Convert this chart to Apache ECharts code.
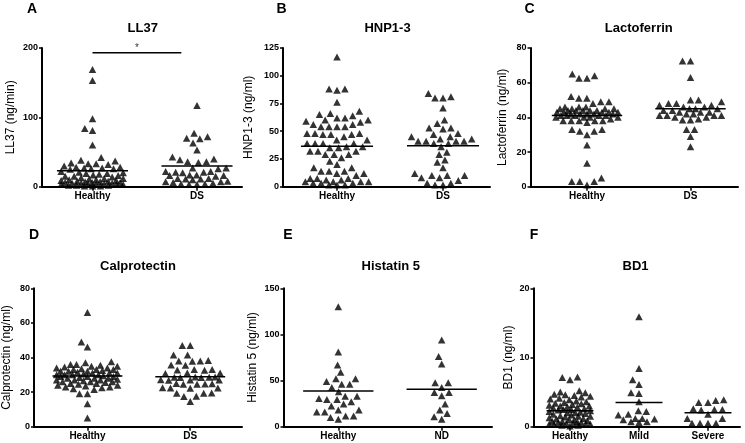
<!DOCTYPE html>
<html><head><meta charset="utf-8">
<script src="https://cdn.jsdelivr.net/npm/echarts@6/dist/echarts.min.js"></script>
<style>html,body{margin:0;padding:0;background:#fff}#c{width:745px;height:443px}</style>
</head><body><div id="c"></div>
<script>
// ---------- DATA ----------
const twoCats = ['Healthy', 'DS'];
const histCats = ['Healthy', 'ND'];
const bd1Cats = ['Healthy', 'Mild', 'Severe'];

const ll37Healthy = [169, 153, 98, 84, 81, 60, 42, 38, 37, 34, 33, 33, 32, 30, 28, 28, 27, 27, 26, 26, 25, 22, 21, 20, 19, 19, 18, 17, 16, 15, 15, 14, 13, 12, 12, 11, 10, 10, 9, 9, 8, 8, 7, 7, 6, 6, 6, 5, 5, 5, 4, 4, 4, 3, 3, 3, 2, 2, 2, 1, 1, 1];
const ll37DS = [117, 77, 72, 70, 69, 63, 53, 43, 40, 39, 36, 36, 35, 27, 27, 26, 22, 22, 21, 21, 20, 17, 17, 16, 16, 15, 12, 12, 11, 11, 10, 8, 7, 7, 6, 5, 4, 4, 3, 3];
const ll37Lines = [23, 30];
const ll37Ticks = [0, 100, 200];

const hnpHealthy = [117, 88, 88, 87, 76, 68, 66, 65, 64, 62, 62, 60, 60, 59, 58, 56, 56, 54, 54, 54, 54, 48, 48, 48, 47, 47, 47, 45, 42, 42, 39, 39, 39, 39, 36, 36, 35, 35, 32, 32, 32, 29, 29, 29, 26, 23, 20, 17, 17, 14, 14, 14, 12, 12, 10, 7.5, 7.5, 7.5, 6, 6, 4.5, 4.5, 4.5, 4.5, 3, 3, 3, 1.5, 1.5, 1.5];
const hnpDS = [84, 81, 80, 80, 71, 60, 57, 53, 53, 52, 48, 47, 45, 45, 43, 43, 41, 41, 41, 41, 39, 39, 36, 31, 29, 24, 22, 17, 12, 10, 10, 10, 8, 8, 5.5, 3, 3, 1.5, 1.5];
const hnpLines = [36.5, 37];
const hnpTicks = [0, 25, 50, 75, 100, 125];

const lactoHealthy = [65, 64, 62.5, 62.5, 52, 51, 51, 49, 49, 48, 46, 46, 46, 45, 45, 45, 45, 44, 44, 44, 44, 44, 43, 43, 43, 43, 43, 42, 42, 42, 42, 42, 41, 41, 41, 41, 41, 40, 40, 40, 40, 39, 38, 38, 38, 38, 38, 37, 33, 33, 32, 32, 30, 24, 13.5, 5, 3, 3, 3, 1];
const lactoDS = [72.5, 72.5, 63, 50, 50, 49, 48, 48, 47, 47, 46, 46, 45, 45, 45, 44, 44, 43, 43, 43, 42, 42, 41, 41, 41, 41, 40, 40, 39, 38.5, 38.5, 33, 33, 29, 23];
const lactoLines = [41, 45];
const lactoTicks = [0, 20, 40, 60, 80];

const calproHealthy = [66, 49, 46, 37.5, 37, 36, 36, 35.5, 35, 35, 34.5, 34, 34, 33.5, 33, 33, 33, 32.5, 32, 32, 32, 31.5, 31, 31, 31, 30.5, 30, 30, 30, 30, 29.5, 29, 29, 29, 28.5, 28, 28, 28, 27.5, 27, 27, 27, 26.5, 26, 26, 26, 25.5, 25, 25, 24.5, 24, 24, 23.5, 23, 23, 22.5, 22, 21.5, 19, 19, 13.2, 5];
const calproDS = [47, 47, 41.5, 41.5, 38.2, 38, 37.8, 38, 35.7, 35.5, 33, 32.8, 32.6, 33, 31, 30.8, 31, 28.8, 28.6, 28.5, 28.7, 28.4, 28.6, 27.2, 27, 26.8, 27, 24.8, 24.6, 24.7, 24.5, 24.9, 22.4, 22.2, 22.3, 22.5, 19.5, 19.3, 19.4, 17.6, 17.4, 14.6];
const calproLines = [29.3, 28.9];
const calproTicks = [0, 20, 40, 60, 80];

const histHealthy = [130, 81, 67, 59, 52, 52, 49, 46, 46, 42.5, 38, 33, 33, 30.6, 29.5, 29.5, 27, 24.5, 22.3, 18, 18, 16, 16, 11.5, 11.5, 10, 8];
const histND = [94, 76, 68, 47.5, 47.5, 42.5, 37, 37, 33.5, 24.5, 18, 14.4, 10.8, 8];
const histLines = [38.8, 40.7];
const histTicks = [0, 50, 100, 150];

const bd1Healthy = [7.2, 7.1, 6.8, 5.2, 5.0, 4.9, 4.7, 4.6, 4.5, 4.4, 4.3, 4.1, 4.0, 3.9, 3.7, 3.6, 3.5, 3.4, 3.3, 3.2, 3.1, 3.0, 3.0, 2.9, 2.8, 2.7, 2.6, 2.5, 2.5, 2.4, 2.3, 2.2, 2.1, 2.0, 2.0, 1.9, 1.8, 1.7, 1.6, 1.5, 1.5, 1.4, 1.3, 1.2, 1.1, 1.0, 1.0, 0.9, 0.8, 0.8, 0.7, 0.6, 0.6, 0.5, 0.5, 0.4, 0.4, 0.3, 0.3, 0.2, 0.2, 0.1];
const bd1Mild = [15.9, 8.4, 6.8, 6.1, 4.9, 4.8, 3.6, 2.3, 2.2, 1.8, 1.7, 1.2, 1.1, 1.2, 1.0, 0.7, 0.6, 0.7];
const bd1Severe = [3.9, 3.8, 3.5, 3.5, 2.6, 2.5, 2.5, 2.4, 1.8, 1.2, 1.2, 0.5, 0.5, 0.5, 0.5];
const bd1Lines = [2.3, 3.5, 2.0];
const bd1Ticks = [0, 10, 20];

// significance bar on LL37 (Healthy vs DS)
const sigFrom = 0, sigTo = 0.85, sigLevel = 193, sigText = '*';

// ---------- LAYOUT ----------
const FONT = 'Liberation Sans, Arial, sans-serif';
const panels = [
  {letter:'A', title:'LL37', yName:'LL37 (ng/min)', cats:twoCats, groups:[ll37Healthy, ll37DS], lines:ll37Lines, ticks:ll37Ticks,
   axis:42, cat0:92.5, step:104.5, end:242, top:48, bottom:186.7, tx:142.7, ty:28, lx:32, ly:9, gap:25},
  {letter:'B', title:'HNP1-3', yName:'HNP1-3 (ng/ml)', cats:twoCats, groups:[hnpHealthy, hnpDS], lines:hnpLines, ticks:hnpTicks,
   axis:283, cat0:337, step:106, end:490, top:48, bottom:186.7, tx:387.5, ty:28, lx:281.5, ly:9, gap:28},
  {letter:'C', title:'Lactoferrin', yName:'Lactoferrin (ng/ml)', cats:twoCats, groups:[lactoHealthy, lactoDS], lines:lactoLines, ticks:lactoTicks,
   axis:530.5, cat0:587, step:103.5, end:738, top:48, bottom:186.7, tx:638.8, ty:28, lx:529.5, ly:9, gap:22},
  {letter:'D', title:'Calprotectin', yName:'Calprotectin (ng/ml)', cats:twoCats, groups:[calproHealthy, calproDS], lines:calproLines, ticks:calproTicks,
   axis:33, cat0:86.7, step:103.3, end:242, top:288.3, bottom:426.7, tx:138, ty:266.7, lx:34, ly:235, gap:21},
  {letter:'E', title:'Histatin 5', yName:'Histatin 5 (ng/ml)', cats:histCats, groups:[histHealthy, histND], lines:histLines, ticks:histTicks,
   axis:283.5, cat0:338.3, step:103.4, end:492, top:288.3, bottom:426.7, tx:390.8, ty:266.7, lx:288, ly:235.5, gap:25},
  {letter:'F', title:'BD1', yName:'BD1 (ng/ml)', cats:bd1Cats, groups:[bd1Healthy, bd1Mild, bd1Severe], lines:bd1Lines, ticks:bd1Ticks,
   axis:533.5, cat0:570, step:69, end:740, top:288.3, bottom:426.7, tx:635.5, ty:266.7, lx:534, ly:235.5, gap:19}
];

// beeswarm layout (pixel space) -> x offsets in category units
function swarm(values, pyUnit, pxUnit, maxHalf) {
  const s = 8;
  const order = values.map((v, i) => i).sort((a, b) => values[a] - values[b]);
  const placed = [];
  const xs = new Array(values.length);
  for (const i of order) {
    const y = values[i] * pyUnit;
    const cands = [0];
    for (const p of placed) {
      const dy = Math.abs(p.y - y);
      if (dy < s) {
        const dx = Math.sqrt(s * s - dy * dy);
        cands.push(p.x + dx, p.x - dx);
      }
    }
    cands.sort((a, b) => Math.abs(a) - Math.abs(b) || a - b);
    let best = null;
    for (const c of cands) {
      if (Math.abs(c) > maxHalf + 1e-6) continue;
      let ok = true;
      for (const p of placed) {
        const dx = p.x - c, dy = p.y - y;
        if (dx * dx + dy * dy < s * s - 1e-6) { ok = false; break; }
      }
      if (ok) { best = c; break; }
    }
    if (best === null) {
      let bestScore = -1;
      for (let c = -maxHalf; c <= maxHalf + 1e-6; c += 1) {
        let md = Infinity;
        for (const p of placed) {
          const d = (p.x - c) ** 2 + (p.y - y) ** 2;
          if (d < md) md = d;
        }
        if (md > bestScore) { bestScore = md; best = c; }
      }
    }
    placed.push({x: best, y});
    xs[i] = best / pxUnit;
  }
  return xs;
}

const grid = [], xAxis = [], yAxis = [], series = [], graphic = [];
panels.forEach((P, i) => {
  const yMax = P.ticks[P.ticks.length - 1];
  const yStep = P.ticks[1] - P.ticks[0];
  const h = P.bottom - P.top;
  grid.push({left: P.axis, top: P.top, width: P.end - P.axis, height: h});
  const idx = P.cats.map((_, k) => k);
  xAxis.push({
    type: 'value', gridIndex: i,
    min: -(P.cat0 - P.axis) / P.step, max: (P.end - P.cat0) / P.step,
    axisLine: {onZero: false, lineStyle: {color: '#000', width: 2}},
    axisTick: {show: true, customValues: idx, length: 4, lineStyle: {color: '#000', width: 1.5}},
    axisLabel: {customValues: idx, formatter: v => P.cats[Math.round(v)], fontFamily: FONT, fontWeight: 'bold', fontSize: 10, color: '#000', margin: 5},
    splitLine: {show: false}
  });
  yAxis.push({
    type: 'value', gridIndex: i, min: 0, max: yMax, interval: yStep,
    name: P.yName, nameLocation: 'middle', nameGap: P.gap,
    nameTextStyle: {fontFamily: FONT, fontSize: 12, color: '#000'},
    axisLine: {show: true, onZero: false, lineStyle: {color: '#000', width: 2}},
    axisTick: {show: true, length: 3, lineStyle: {color: '#000', width: 1.5}},
    axisLabel: {fontFamily: FONT, fontWeight: 'bold', fontSize: 9, color: '#000', margin: 4},
    splitLine: {show: false}
  });
  P.groups.forEach((vals, k) => {
    const xs = swarm(vals, h / yMax, P.step, 0.3 * P.step);
    series.push({
      type: 'scatter', xAxisIndex: i, yAxisIndex: i, symbol: 'triangle', symbolSize: [7.5, 7],
      itemStyle: {color: '#000'}, silent: true, z: 2,
      data: vals.map((v, j) => [k + xs[j], v])
    });
    series.push({
      type: 'line', xAxisIndex: i, yAxisIndex: i, symbol: 'none', silent: true, z: 3,
      lineStyle: {color: '#000', width: 1.5},
      data: [[k - 0.34, P.lines[k]], [k + 0.34, P.lines[k]]]
    });
  });
  graphic.push({type: 'text', x: P.tx, y: P.ty, style: {text: P.title, fontFamily: FONT, fontWeight: 'bold', fontSize: 13, fill: '#000', textAlign: 'center', textVerticalAlign: 'middle'}});
  graphic.push({type: 'text', x: P.lx, y: P.ly, style: {text: P.letter, fontFamily: FONT, fontWeight: 'bold', fontSize: 14, fill: '#000', textAlign: 'center', textVerticalAlign: 'middle'}});
});

// significance bar
series.push({
  type: 'line', xAxisIndex: 0, yAxisIndex: 0, symbol: 'none', silent: true, z: 3,
  lineStyle: {color: '#000', width: 1.5},
  data: [[sigFrom, sigLevel], [sigTo, sigLevel]]
});
series.push({
  type: 'scatter', xAxisIndex: 0, yAxisIndex: 0, symbolSize: 0, silent: true,
  label: {show: true, position: 'top', distance: 0, formatter: sigText, fontFamily: FONT, fontSize: 10, color: '#000'},
  data: [[(sigFrom + sigTo) / 2, sigLevel]]
});

const chart = echarts.init(document.getElementById('c'), null, {renderer: 'canvas'});
chart.setOption({animation: false, backgroundColor: '#fff', grid, xAxis, yAxis, series, graphic});
</script>
</body></html>
